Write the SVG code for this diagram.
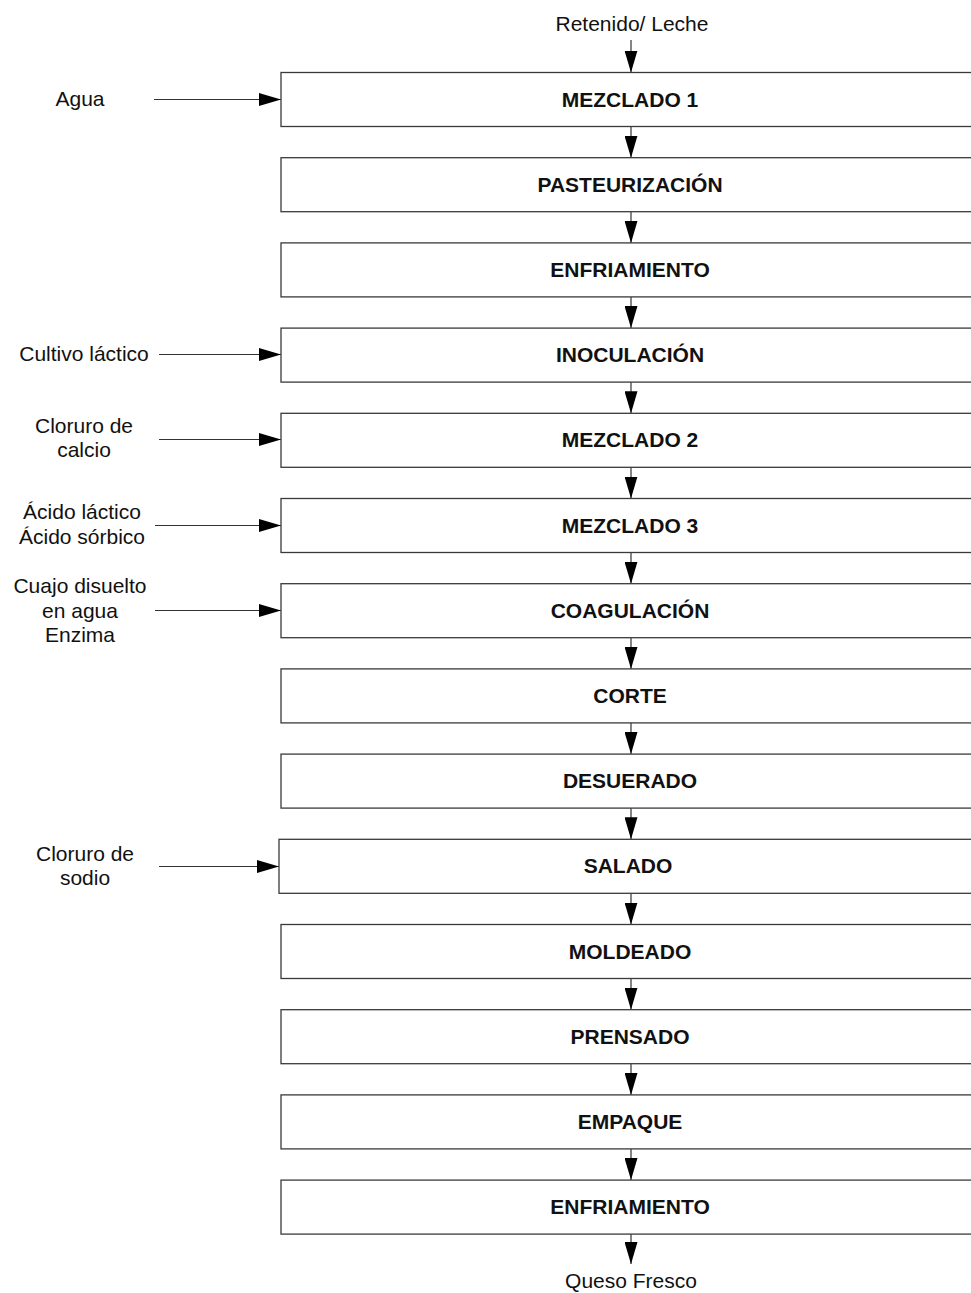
<svg xmlns="http://www.w3.org/2000/svg" width="971" height="1293" viewBox="0 0 971 1293">
<style>
.box{fill:#fff;stroke:#3a3a3a;stroke-width:1.3}
.t{font-family:"Liberation Sans",Arial,sans-serif;font-size:21px;font-weight:bold;fill:#111;text-anchor:middle}
.l{font-family:"Liberation Sans",Arial,sans-serif;font-size:21px;fill:#111;text-anchor:middle}
.c{stroke:#333;stroke-width:1.2;fill:none;marker-end:url(#ah)}
</style>
<defs>
<marker id="ah" markerUnits="userSpaceOnUse" markerWidth="23" markerHeight="13" refX="22" refY="6.5" orient="auto">
<path d="M0,0 L22,6.5 L0,13 z" fill="#000"/>
</marker>
</defs>
<rect width="971" height="1293" fill="#fff"/>
<g id="connectors">
<line class="c" x1="631" y1="40" x2="631" y2="72.5"/>
<line class="c" x1="631" y1="126.5" x2="631" y2="157.7"/>
<line class="c" x1="631" y1="211.7" x2="631" y2="242.9"/>
<line class="c" x1="631" y1="296.9" x2="631" y2="328.1"/>
<line class="c" x1="631" y1="382.1" x2="631" y2="413.3"/>
<line class="c" x1="631" y1="467.3" x2="631" y2="498.5"/>
<line class="c" x1="631" y1="552.5" x2="631" y2="583.7"/>
<line class="c" x1="631" y1="637.7" x2="631" y2="668.9"/>
<line class="c" x1="631" y1="722.9" x2="631" y2="754.1"/>
<line class="c" x1="631" y1="808.1" x2="631" y2="839.3"/>
<line class="c" x1="631" y1="893.3" x2="631" y2="924.5"/>
<line class="c" x1="631" y1="978.5" x2="631" y2="1009.7"/>
<line class="c" x1="631" y1="1063.7" x2="631" y2="1094.9"/>
<line class="c" x1="631" y1="1148.9" x2="631" y2="1180.1"/>
<line class="c" x1="631" y1="1234.1" x2="631" y2="1264"/>
<line class="c" x1="154" y1="99.5" x2="281" y2="99.5"/>
<line class="c" x1="159" y1="354.5" x2="281" y2="354.5"/>
<line class="c" x1="159" y1="439.5" x2="281" y2="439.5"/>
<line class="c" x1="155" y1="525.5" x2="281" y2="525.5"/>
<line class="c" x1="155" y1="610.5" x2="281" y2="610.5"/>
<line class="c" x1="159" y1="866.5" x2="279" y2="866.5"/>
</g>
<g id="in-leche"><text class="l" x="632" y="31">Retenido/ Leche</text></g>
<g id="in-agua"><text class="l" x="80" y="106">Agua</text></g>
<g id="in-cultivo"><text class="l" x="84" y="361">Cultivo láctico</text></g>
<g id="in-calcio"><text class="l" x="84" y="433">Cloruro de</text><text class="l" x="84" y="457">calcio</text></g>
<g id="in-acido"><text class="l" x="82" y="519">Ácido láctico</text><text class="l" x="82" y="544">Ácido sórbico</text></g>
<g id="in-cuajo"><text class="l" x="80" y="593">Cuajo disuelto</text><text class="l" x="80" y="618">en agua</text><text class="l" x="80" y="642">Enzima</text></g>
<g id="in-sodio"><text class="l" x="85" y="861">Cloruro de</text><text class="l" x="85" y="885">sodio</text></g>
<g id="out-queso"><text class="l" x="631" y="1288">Queso Fresco</text></g>
<g id="n1"><rect class="box" x="281" y="72.5" width="720" height="54"/><text class="t" x="630" y="107">MEZCLADO 1</text></g>
<g id="n2"><rect class="box" x="281" y="157.7" width="720" height="54"/><text class="t" x="630" y="192">PASTEURIZACIÓN</text></g>
<g id="n3"><rect class="box" x="281" y="242.9" width="720" height="54"/><text class="t" x="630" y="277">ENFRIAMIENTO</text></g>
<g id="n4"><rect class="box" x="281" y="328.1" width="720" height="54"/><text class="t" x="630" y="362">INOCULACIÓN</text></g>
<g id="n5"><rect class="box" x="281" y="413.3" width="720" height="54"/><text class="t" x="630" y="447">MEZCLADO 2</text></g>
<g id="n6"><rect class="box" x="281" y="498.5" width="720" height="54"/><text class="t" x="630" y="533">MEZCLADO 3</text></g>
<g id="n7"><rect class="box" x="281" y="583.7" width="720" height="54"/><text class="t" x="630" y="618">COAGULACIÓN</text></g>
<g id="n8"><rect class="box" x="281" y="668.9" width="720" height="54"/><text class="t" x="630" y="703">CORTE</text></g>
<g id="n9"><rect class="box" x="281" y="754.1" width="720" height="54"/><text class="t" x="630" y="788">DESUERADO</text></g>
<g id="n10"><rect class="box" x="279" y="839.3" width="722" height="54"/><text class="t" x="628" y="873">SALADO</text></g>
<g id="n11"><rect class="box" x="281" y="924.5" width="720" height="54"/><text class="t" x="630" y="959">MOLDEADO</text></g>
<g id="n12"><rect class="box" x="281" y="1009.7" width="720" height="54"/><text class="t" x="630" y="1044">PRENSADO</text></g>
<g id="n13"><rect class="box" x="281" y="1094.9" width="720" height="54"/><text class="t" x="630" y="1129">EMPAQUE</text></g>
<g id="n14"><rect class="box" x="281" y="1180.1" width="720" height="54"/><text class="t" x="630" y="1214">ENFRIAMIENTO</text></g>
</svg>
